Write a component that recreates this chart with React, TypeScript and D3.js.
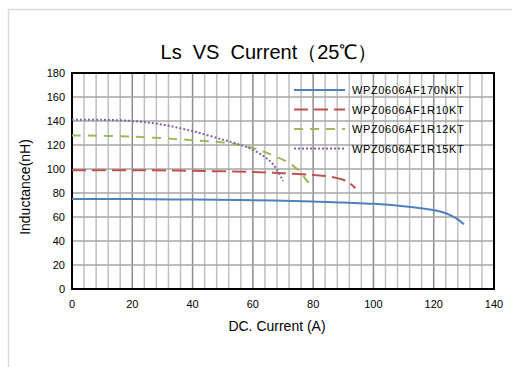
import React, { useEffect, useRef } from 'react'
import * as d3 from 'd3'

const seriesNames = ['WPZ0606AF170NKT', 'WPZ0606AF1R10KT', 'WPZ0606AF1R12KT', 'WPZ0606AF1R15KT']
const seriesColors = ['#4F81BD', '#C0504D', '#9BBB59', '#8064A2']
const seriesDash = ['none', '14,6', '9,7', '2,2']

const s170 = [[0, 75], [20, 75], [40, 74.5], [60, 74], [80, 73], [90, 72], [100, 71], [110, 69], [118, 66.5], [123, 64], [126, 61], [128, 58], [130, 54]]
const s1r10 = [[0, 99], [20, 99], [40, 98.5], [60, 97.5], [70, 96.5], [80, 95], [86, 93.5], [90, 91], [92.5, 87.5], [94, 84]]
const s1r12 = [[0, 128], [20, 127], [40, 124], [50, 122], [60, 117.5], [66, 112], [72, 105], [75.5, 98], [78, 90], [80, 84]]
const s1r15 = [[0, 141], [10, 141], [20, 140], [30, 137], [40, 131.5], [50, 124.5], [56, 120], [60, 116], [64, 110], [67, 103], [70, 90]]
const allSeries = [s170, s1r10, s1r12, s1r15]

const xTicks = [0, 20, 40, 60, 80, 100, 120, 140]
const yTicks = [0, 20, 40, 60, 80, 100, 120, 140, 160, 180]

const W = 512
const H = 367

function App() {
    const ref = useRef<SVGSVGElement>(null)

    useEffect(() => {
        const svg = d3.select(ref.current)
        svg.selectAll('*').remove()

        const margin = { left: 72, right: 18, top: 73, bottom: 78 }
        const x = d3.scaleLinear().domain([0, 140]).range([margin.left, W - margin.right])
        const y = d3.scaleLinear().domain([0, 180]).range([H - margin.bottom, margin.top])
        const font = 'Arial, "Liberation Sans", sans-serif'

        svg.append('rect').attr('width', W).attr('height', H).attr('fill', '#fff')
        // outer chart frame
        svg.append('path')
            .attr('d', `M8.5,${H} V9.5 H${W}`)
            .attr('fill', 'none').attr('stroke', '#d9d9d9').attr('stroke-width', 1.5)

        svg.append('text')
            .attr('x', 269).attr('y', 59)
            .attr('text-anchor', 'middle')
            .style('font', `20px ${font}`)
            .style('white-space', 'pre')
            .text('Ls  VS  Current（25℃）')

        const grid = svg.append('g')
        d3.range(4, 140, 4).forEach(v => {
            grid.append('line')
                .attr('x1', x(v)).attr('x2', x(v)).attr('y1', y(0)).attr('y2', y(180))
                .attr('stroke', v % 20 === 0 ? '#8c8c8c' : '#bfbfbf').attr('stroke-width', 1.5)
        })
        yTicks.slice(1, -1).forEach(v => {
            grid.append('line')
                .attr('x1', x(0)).attr('x2', x(140)).attr('y1', y(v)).attr('y2', y(v))
                .attr('stroke', '#a6a6a6').attr('stroke-width', 1.5)
        })

        svg.append('rect')
            .attr('x', x(0)).attr('y', y(180))
            .attr('width', x(140) - x(0)).attr('height', y(0) - y(180))
            .attr('fill', 'none').attr('stroke', '#000').attr('stroke-width', 2)

        const line = d3.line<number[]>()
            .x(d => x(d[0]))
            .y(d => y(d[1]))
            .curve(d3.curveCatmullRom.alpha(0.5))

        allSeries.forEach((s, i) => {
            svg.append('path')
                .attr('d', line(s))
                .attr('fill', 'none')
                .attr('stroke', seriesColors[i])
                .attr('stroke-width', 2)
                .attr('stroke-dasharray', seriesDash[i])
        })

        svg.append('g').selectAll('text').data(yTicks).join('text')
            .attr('x', x(0) - 7).attr('y', d => y(d) + 4)
            .attr('text-anchor', 'end')
            .style('font', `11px ${font}`)
            .text(d => d)

        svg.append('g').selectAll('text').data(xTicks).join('text')
            .attr('x', d => x(d)).attr('y', y(0) + 19)
            .attr('text-anchor', 'middle')
            .style('font', `11px ${font}`)
            .text(d => d)

        svg.append('text')
            .attr('x', 277).attr('y', 331)
            .attr('text-anchor', 'middle')
            .style('font', `14px ${font}`)
            .text('DC. Current (A)')

        svg.append('text')
            .attr('transform', `translate(30,187) rotate(-90)`)
            .attr('text-anchor', 'middle')
            .style('font', `14px ${font}`)
            .text('Inductance(nH)')

        const legend = svg.append('g')
        seriesNames.forEach((name, i) => {
            const ly = 90 + i * 19.5
            legend.append('line')
                .attr('x1', 294).attr('x2', 345).attr('y1', ly).attr('y2', ly)
                .attr('stroke', seriesColors[i]).attr('stroke-width', 2)
                .attr('stroke-dasharray', seriesDash[i])
            legend.append('text')
                .attr('x', 352).attr('y', ly + 4)
                .style('font', `11px ${font}`)
                .style('letter-spacing', '0.6px')
                .text(name)
        })
    }, [])

    return (
        <svg ref={ref} width={W} height={H} style={{ position: 'absolute', left: 0, top: 0 }} />
    )
}

export default App
